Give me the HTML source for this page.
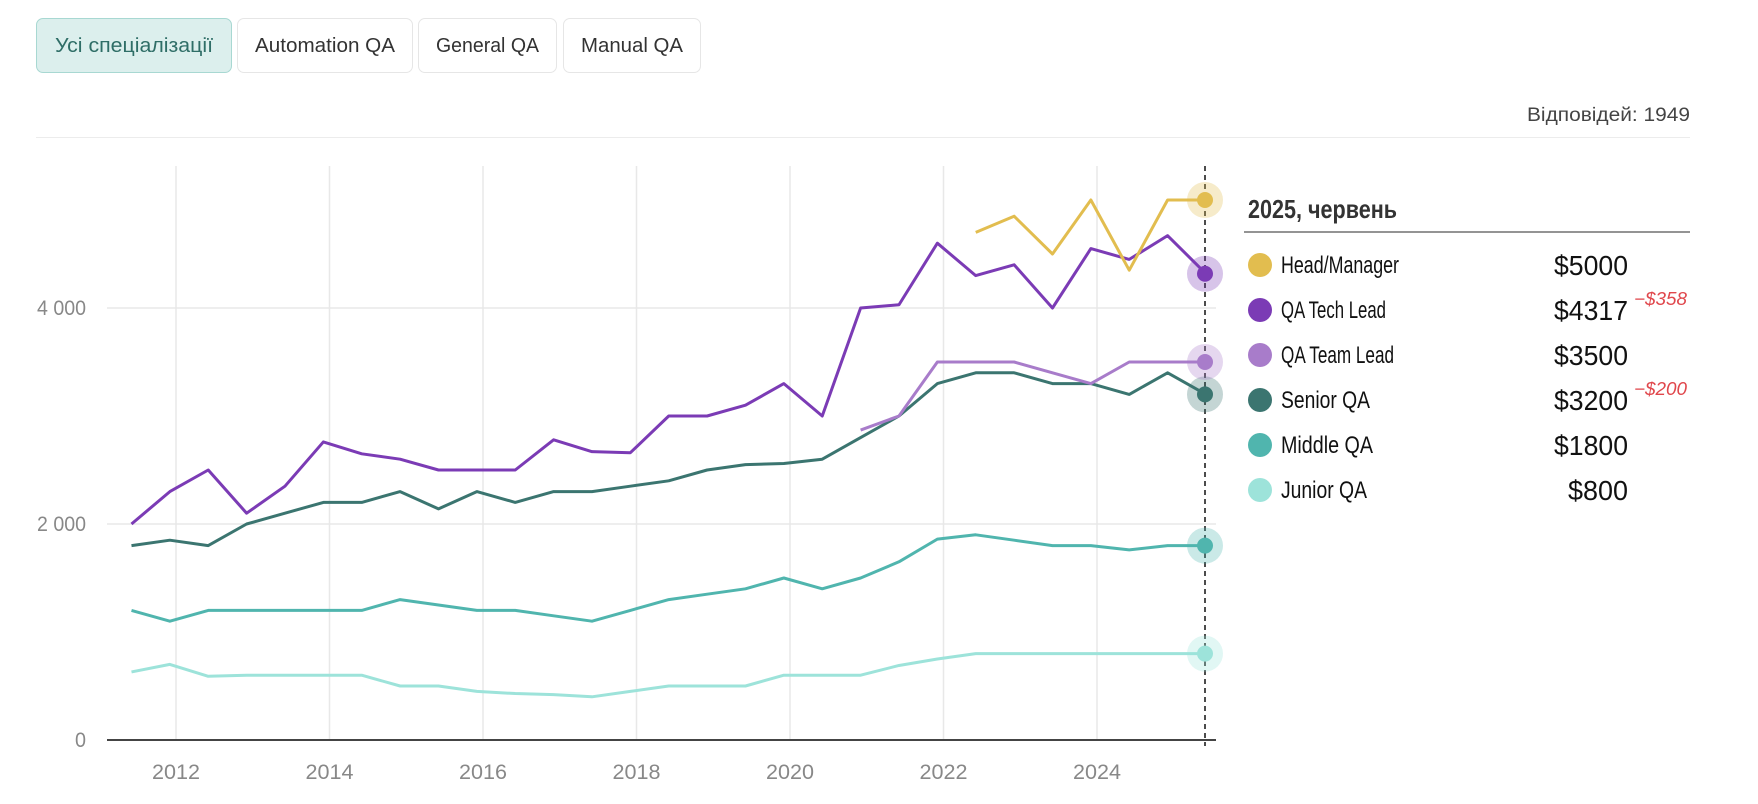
<!DOCTYPE html>
<html><head><meta charset="utf-8"><style>
body{margin:0;background:#fff;width:1758px;height:804px;overflow:hidden;font-family:"Liberation Sans",sans-serif;}
.tab{position:absolute;top:18px;height:55px;border:1px solid #e6e6e6;border-radius:7px;box-sizing:border-box;}
</style></head><body>
<div class="tab" style="left:36px;width:196px;background:#dcefed;border-color:#a8d8d2"></div>
<div class="tab" style="left:237px;width:176px"></div>
<div class="tab" style="left:418px;width:139px"></div>
<div class="tab" style="left:563px;width:138px"></div>
<div style="position:absolute;left:36px;top:137px;width:1654px;height:1px;background:#ececec"></div>
<svg width="1758" height="804" style="position:absolute;left:0;top:0" id="s" font-family="Liberation Sans, sans-serif"></svg>
<script>
const s=document.getElementById('s');let h='';
const T=(x,y,str,w,fs,fill,anchor,extra)=>`<text x="${x}" y="${y}" font-size="${fs}" fill="${fill}" text-anchor="${anchor||'start'}" textLength="${w}" lengthAdjust="spacingAndGlyphs" ${extra||''}>${str}</text>`;
h+=T(134,52,'Усі спеціалізації',158,20,'#2f6e67','middle');
h+=T(325,52,'Automation QA',140,20,'#333','middle');
h+=T(487.5,52,'General QA',103,20,'#333','middle');
h+=T(632,52,'Manual QA',102,20,'#333','middle');
h+=T(1690,121,'Відповідей: 1949',163,19,'#444','end');
const X=t=>176+(t-2012)*76.75, Y=v=>740-v*0.108;
for(let yr=2012;yr<=2024;yr+=2){h+=`<line x1="${X(yr)}" y1="166" x2="${X(yr)}" y2="740" stroke="#e8e8e8" stroke-width="1.5"/>`;h+=T(X(yr),779,yr,48,21,'#888','middle');}
[[2000,'2 000'],[4000,'4 000']].forEach(([v,l])=>{h+=`<line x1="107" y1="${Y(v)}" x2="1216" y2="${Y(v)}" stroke="#e8e8e8" stroke-width="1.5"/>`+T(86,Y(v)+7,l,49,21,'#888','end');});
h+=T(86,747,'0',11,21,'#888','end');
h+=`<line x1="107" y1="740" x2="1216" y2="740" stroke="#444" stroke-width="2"/>`;
const S=[
['#9de3da',0,[630,700,590,600,600,600,600,500,500,450,430,420,400,450,500,500,500,600,600,600,690,750,800,800,800,800,800,800,800]],
['#50b5ae',0,[1200,1100,1200,1200,1200,1200,1200,1300,1250,1200,1200,1150,1100,1200,1300,1350,1400,1500,1400,1500,1650,1860,1900,1850,1800,1800,1760,1800,1800]],
['#3b7570',0,[1800,1850,1800,2000,2100,2200,2200,2300,2140,2300,2200,2300,2300,2350,2400,2500,2550,2560,2600,2800,3000,3300,3400,3400,3300,3300,3200,3400,3200]],
['#a87cca',19,[2870,3000,3500,3500,3500,3400,3300,3500,3500,3500]],
['#7b3bb5',0,[2000,2300,2500,2100,2350,2760,2650,2600,2500,2500,2500,2780,2670,2660,3000,3000,3100,3300,3000,4000,4030,4600,4300,4400,4000,4550,4450,4670,4317]],
['#e2bd4f',22,[4700,4850,4500,5000,4350,5000,5000]]];
S.forEach(([c,o,d])=>{h+=`<polyline fill="none" stroke="${c}" stroke-width="3" stroke-linejoin="round" points="${d.map((v,i)=>X(2011.42+(o+i)*0.5)+','+Y(v)).join(' ')}"/>`;});
h+=`<line x1="1205" y1="166" x2="1205" y2="746" stroke="#111" stroke-width="1.5" stroke-dasharray="5,4"/>`;
S.forEach(([c,o,d])=>{const v=d[d.length-1];h+=`<circle cx="1205" cy="${Y(v)}" r="18" fill="${c}" opacity="0.3"/><circle cx="1205" cy="${Y(v)}" r="8" fill="${c}"/>`;});
h+=T(1248,218,'2025, червень',149,26,'#333','start','font-weight="bold"')+`<line x1="1244" y1="232" x2="1690" y2="232" stroke="#555" stroke-width="1.2"/>`;
const L=[['#e2bd4f','Head/Manager',118,'$5000',74,''],['#7b3bb5','QA Tech Lead',105,'$4317',74,'−$358'],['#a87cca','QA Team Lead',113,'$3500',74,''],['#3b7570','Senior QA',89,'$3200',74,'−$200'],['#50b5ae','Middle QA',92,'$1800',74,''],['#9de3da','Junior QA',86,'$800',60,'']];
L.forEach(([c,n,nw,v,vw,dl],i)=>{const y=265+i*45;h+=`<circle cx="1260" cy="${y}" r="12" fill="${c}"/>`+T(1281,y+8,n,nw,24,'#111')+T(1628,y+10,v,vw,28,'#111','end');if(dl)h+=T(1634,y-5,dl,53,18,'#e0474c','start','font-style="italic"');});
s.innerHTML=h;
</script>
</body></html>
